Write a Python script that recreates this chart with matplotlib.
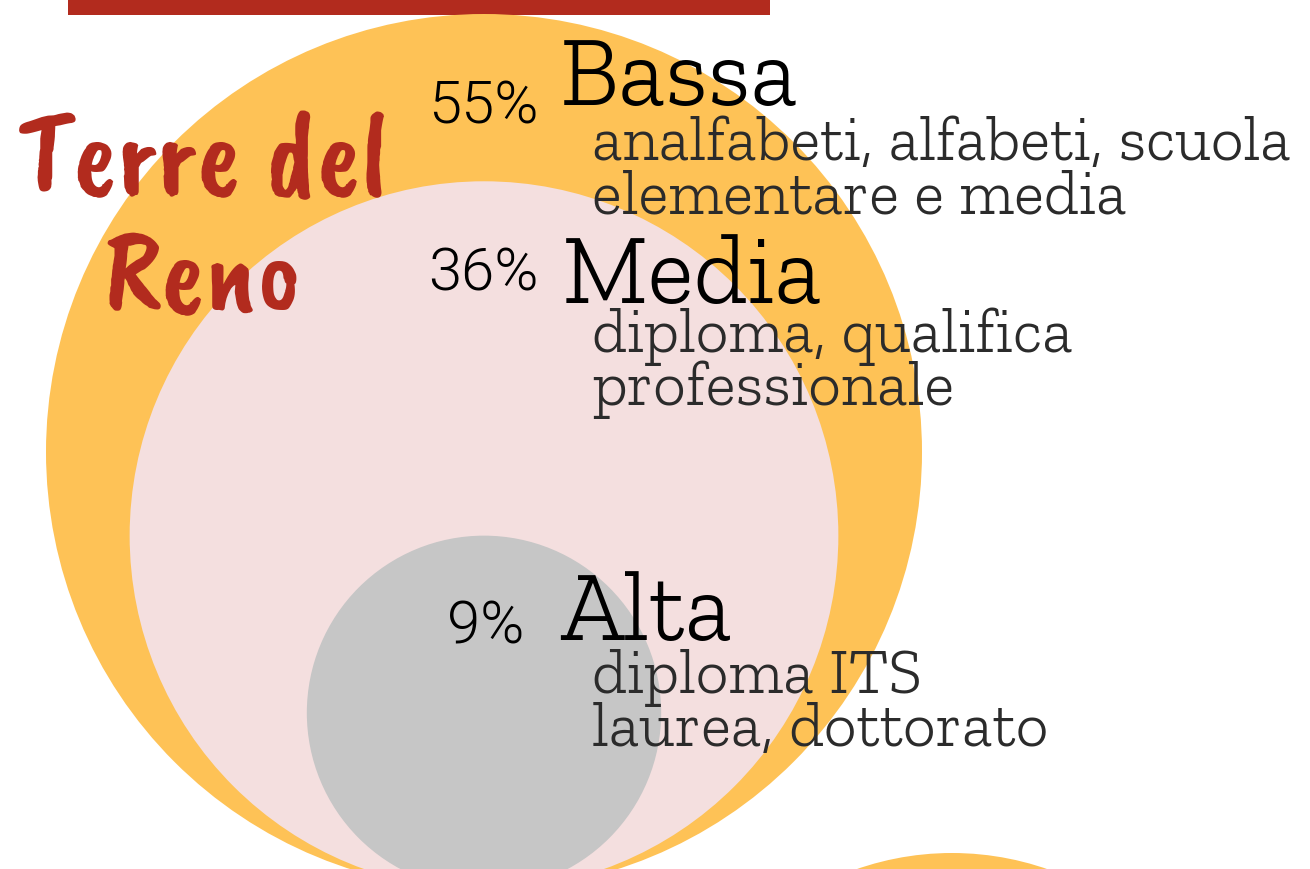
import numpy as np
import matplotlib
matplotlib.use("Agg")
import matplotlib.pyplot as plt
from matplotlib.patches import Circle, Rectangle

# data
categories = ["Bassa", "Media", "Alta"]
percentages = [55, 36, 9]
descriptions = [
    ["analfabeti, alfabeti, scuola", "elementare e media"],
    ["diploma, qualifica", "professionale"],
    ["diploma ITS", "laurea, dottorato"],
]
title_lines = ["Terre del", "Reno"]

# styles
circle_colors = ["#FEC256", "#F4DFDF", "#C6C6C6"]
red = "#B22B1E"
slab = ["Zilla Slab", "DejaVu Serif"]
sans = ["Roboto", "DejaVu Sans"]
hand = ["Caveat Brush", "Kalam", "DejaVu Sans"]

# layout (pixels, origin top-left)
W, H = 1310, 870
cx, bottom = 484, 891
r_per_sqrt_pct = 438 / np.sqrt(55)   # circle area proportional to share
pct_x = [428, 428, 447]
pct_y = [123, 291, 644]
cat_x = [560, 562, 560]
cat_y = [105, 303, 640]
desc_x = 592
desc_y = [[160, 213], [352, 405], [693, 746]]

fig = plt.figure(figsize=(W / 100, H / 100), dpi=100)
ax = fig.add_axes([0, 0, 1, 1])
ax.set_xlim(0, W)
ax.set_ylim(H, 0)
ax.axis("off")

# red bar on top
ax.add_patch(Rectangle((68, -5), 702, 21, color=red, lw=0))

# next panel's circle peeking at the bottom
ax.add_patch(Circle((952, 1144), 290, color=circle_colors[0], lw=0))

for i, p in enumerate(percentages):
    r = r_per_sqrt_pct * np.sqrt(p)
    ax.add_patch(Circle((cx, bottom - r), r, color=circle_colors[i], lw=0))

for i, cat in enumerate(categories):
    ax.text(pct_x[i], pct_y[i], f"{percentages[i]}%", family=sans, fontweight=300,
            fontsize=43, color="black", va="baseline", ha="left")
    ax.text(cat_x[i], cat_y[i], cat, family=slab, fontweight=300,
            fontsize=71, color="black", va="baseline", ha="left")
    for line, y in zip(descriptions[i], desc_y[i]):
        ax.text(desc_x, y, line, family=slab, fontweight=300,
                fontsize=46, color="#2B2B2B", va="baseline", ha="left")

ax.text(17, 192, title_lines[0], family=hand, fontsize=84,
        color=red, va="baseline", ha="left")
ax.text(103, 310, title_lines[1], family=hand, fontsize=84,
        color=red, va="baseline", ha="left")

fig.savefig("out.png", dpi=100)
